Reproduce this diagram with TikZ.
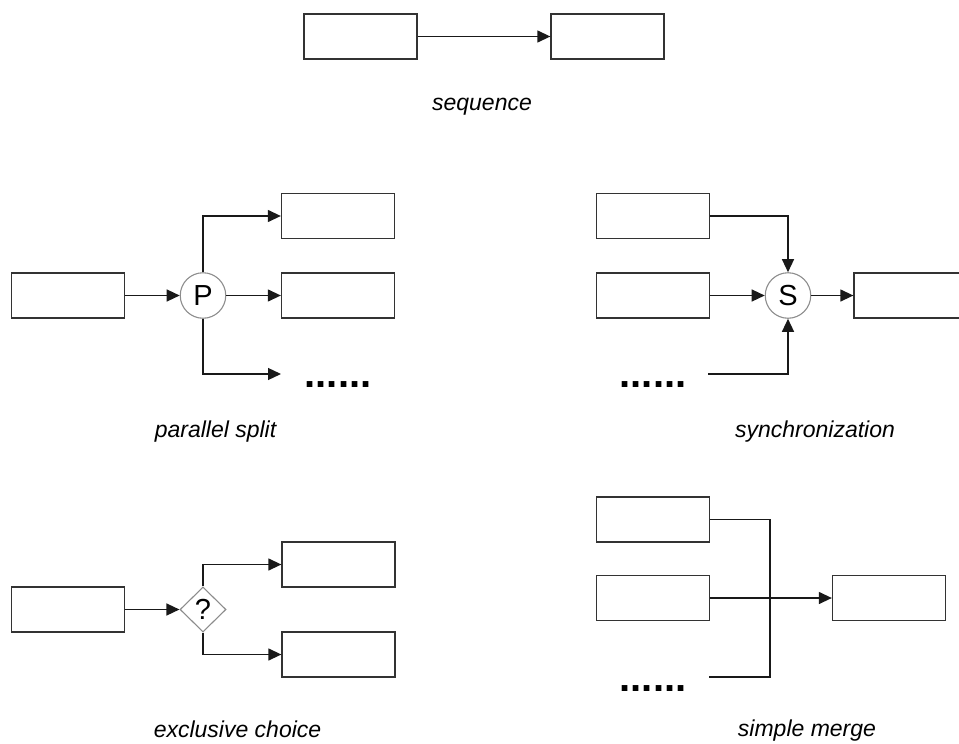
\documentclass[tikz,border=0pt]{standalone}
\usepackage{fontspec}
\setmainfont{Liberation Sans}
\usetikzlibrary{arrows.meta,shapes.geometric}

\tikzset{
  task/.style={draw=black!80, line width=1.3pt, rectangle, minimum width=113pt,
    minimum height=45pt, inner sep=0pt, fill=white},
  gate/.style={draw=black!45, line width=1.1pt, circle, minimum size=45.5pt,
    inner sep=0pt, font=\fontsize{29}{31}\selectfont},
  choice/.style={draw=black!45, line width=1.1pt, diamond, minimum width=46pt,
    minimum height=45pt, inner sep=0pt, font=\fontsize{29}{31}\selectfont},
  flow/.style={line width=1.3pt, black!90},
  arr/.style={flow, -{Triangle[length=13pt,width=12pt]}},
  caption/.style={font=\fontsize{23}{27}\selectfont\itshape, anchor=base, inner sep=0pt},
  more/.style={font=\fontsize{40}{42}\selectfont\bfseries, anchor=base, inner sep=0pt},
}

\begin{document}
\begin{tikzpicture}[x=1pt,y=-1pt]
\useasboundingbox (0,0) rectangle (959,744);
\clip (0,0) rectangle (959,744);

% sequence
\node[task] (s1) at (360.5,36.5) {};
\node[task] (s2) at (607.5,36.5) {};
\draw[arr] (s1) -- (s2);
\node[caption] (capseq) at (482,110) {sequence};

% parallel split
\node[task] (pin) at (68,295.5) {};
\node[gate] (P) at (203,295.5) {P};
\node[task] (pa) at (338,216) {};
\node[task] (pb) at (338,295.5) {};
\coordinate (pc) at (281,374);
\node[more] (pdots) at (338,387) {......};
\draw[arr] (pin) -- (P);
\draw[arr] (P.north) |- (pa.west);
\draw[arr] (P) -- (pb);
\draw[arr] (P.south) |- (pc);
\node[caption] (cappar) at (215.5,437) {parallel split};

% synchronization
\node[task] (sa) at (653,216) {};
\node[task] (sb) at (653,295.5) {};
\coordinate (sc) at (708,374);
\node[more] (sdots) at (653,387) {......};
\node[gate] (S) at (788,295.5) {S};
\node[task] (sout) at (910.5,295.5) {};
\draw[arr] (sa.east) -| (S.north);
\draw[arr] (sb) -- (S);
\draw[arr] (sc) -| (S.south);
\draw[arr] (S) -- (sout);
\node[caption] (capsync) at (815,437) {synchronization};

% exclusive choice
\node[task] (xin) at (68,609.5) {};
\node[choice] (X) at (203,609.5) {?};
\node[task] (xa) at (338.5,564.5) {};
\node[task] (xb) at (338.5,654.5) {};
\draw[arr] (xin) -- (X);
\draw[arr] (X.north) |- (xa.west);
\draw[arr] (X.south) |- (xb.west);
\node[caption] (capxor) at (237.5,737) {exclusive choice};

% simple merge
\node[task] (ma) at (653,519.5) {};
\node[task] (mb) at (653,598) {};
\node[more] (mdots) at (653,691) {......};
\node[task] (mout) at (889,598) {};
\coordinate (mtop) at (770,519.5);
\coordinate (mbot) at (770,677);
\coordinate (mend) at (709,677);
\draw[flow] (ma.east) -- (mtop) -- (mbot) -- (mend);
\draw[arr] (mb) -- (mout);
\node[caption] (capmerge) at (807,736) {simple merge};
\end{tikzpicture}
\end{document}
